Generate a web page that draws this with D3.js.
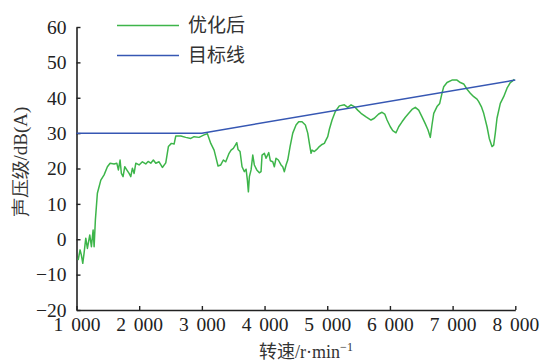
<!DOCTYPE html>
<html>
<head>
<meta charset="utf-8">
<script src="https://cdn.jsdelivr.net/npm/d3@7"></script>
<style>
  html, body { margin: 0; padding: 0; background: #fff; }
  svg { display: block; }
  .serif { font-family: "Liberation Serif", "Times New Roman", "DejaVu Serif", serif; }
</style>
</head>
<body>
<svg id="chart" width="541" height="364"></svg>
<script>
// Engine speed (r/min) and measured sound pressure level after optimisation, dB(A)
const speedOptimized = [
  1026,1057,1078,1100,1121,1148,1174,1212,1238,1265,1281,1301,1333,1388,1440,
  1493,1536,1600,1643,1668,1695,1716,1743,1770,1802,1839,1866,1892,1919,1946,
  1998,2051,2105,2142,2185,2226,2265,2317,2370,2424,2466,2514,2557,2584,2664,
  2743,2823,2876,2955,3035,3088,3142,3195,3222,3258,3301,3343,3381,3434,
  3466,3502,3534,3557,3577,3609,3641,3678,3705,3726,3742,3758,3785,3812,3837,
  3876,3917,3944,3960,3997,4024,4067,4092,4131,4156,4183,4220,4263,4290,4316,
  4343,4370,4407,4450,4502,4545,4598,4651,4689,4715,4742,4758,4794,4833,4874,
  4917,4954,4981,5008,5034,5077,5129,5193,5273,5327,5380,5432,5486,5539,5619,
  5698,5751,
  5767,5821,5874,5917,5954,6006,6045,6097,6140,6193,6246,6300,6352,6405,6459,
  6512,6565,6608,6644,6671,6699,6751,6794,6831,6858,6911,6990,7070,7123,7177,
  7230,7282,7337,7389,7416,7458,7496,7549,7585,7628,7655,7681,7708,7761,7815,
  7868,7920,7959,7984
];
const splOptimized = [
  -5.9,-3.0,-4.5,-6.8,-3.9,0.3,-2.6,1.2,-2.1,2.6,-2.1,5.4,13.0,16.7,18.2,
  20.5,21.5,21.3,21.5,19.6,22.4,18.6,17.7,20.5,19.6,18.6,17.7,20.1,18.6,21.5,
  21.0,21.9,21.3,22.0,21.5,22.4,21.5,21.9,20.3,21.6,26.2,27.1,26.9,29.2,29.2,
  28.8,28.5,29.0,28.8,29.5,29.8,27.1,25.2,23.3,20.7,21.0,22.4,21.9,24.3,
  25.2,25.7,26.6,27.3,25.4,24.8,20.5,19.1,19.8,16.7,13.4,17.7,19.6,23.8,21.0,
  19.6,18.8,19.1,23.8,24.3,22.9,24.5,22.2,21.9,20.5,22.9,22.4,21.0,20.5,19.1,
  21.0,22.4,26.2,30.0,32.3,33.2,33.2,32.3,30.0,27.1,24.3,25.2,24.8,25.4,26.2,
  26.8,27.1,28.1,29.0,31.1,33.7,36.1,37.7,38.0,37.3,38.0,37.5,36.5,35.6,34.6,
  33.7,34.2,
  34.5,35.4,35.9,35.4,33.7,31.8,30.7,30.1,31.8,33.2,34.5,35.6,36.7,37.3,36.5,
  34.6,32.6,30.9,28.8,32.3,35.6,37.5,38.4,41.3,43.1,44.3,45.0,45.0,44.3,43.9,
  42.4,41.3,40.3,39.6,38.9,37.5,35.6,31.8,28.5,26.2,26.6,30.0,34.2,38.4,40.3,
  42.7,44.3,44.8,45.2
];

// Target curve: flat 30 dB(A) up to 3000 r/min, then rising linearly
const speedTarget = [1000, 3000, 8000];
const splTarget = [30, 30, 45];

const xTicks = [1000, 2000, 3000, 4000, 5000, 6000, 7000, 8000];
const yTicks = [-20, -10, 0, 10, 20, 30, 40, 50, 60];

const seriesNames = ["优化后", "目标线"];
const seriesColors = ["#3db54a", "#3657b3"];

const svg = d3.select("#chart");
const margin = { left: 76.5, right: 25.7, top: 27, bottom: 54 };
const W = 541, H = 364;

const x = d3.scaleLinear().domain([1000, 8000]).range([margin.left, W - margin.right]);
const y = d3.scaleLinear().domain([-20, 60]).range([H - margin.bottom, margin.top]);

const fmtX = d => d3.format(",")(d).replace(",", "\u2009\u2009");
const fmtY = d3.format("d");

const serifStack = "'Liberation Serif', 'Times New Roman', 'DejaVu Serif', serif";

// Axes with inward ticks
const gx = svg.append("g")
  .attr("transform", `translate(0,${y(-20)})`)
  .call(d3.axisBottom(x).tickValues(xTicks).tickFormat(fmtX)
    .tickSizeInner(-4).tickSizeOuter(0).tickPadding(6));
const gy = svg.append("g")
  .attr("transform", `translate(${x(1000)},0)`)
  .call(d3.axisLeft(y).tickValues(yTicks).tickFormat(fmtY)
    .tickSizeInner(-4).tickSizeOuter(0).tickPadding(10));

[gx, gy].forEach(g => {
  g.attr("font-family", serifStack).attr("font-size", 19.5);
  g.select(".domain").attr("stroke", "#222").attr("stroke-width", 1.6);
  g.selectAll(".tick line").attr("stroke", "#222").attr("stroke-width", 1.4);
  g.selectAll(".tick text")
    .attr("class", "serif")
    .attr("fill", "#222")
    .attr("font-family", serifStack)
    .attr("font-size", 19.5);
});
gx.selectAll(".tick text").attr("dy", "0.75em");

// Lines
const line = d3.line().x(d => x(d[0])).y(d => y(d[1]));
const targetData = speedTarget.map((s, i) => [s, splTarget[i]]);
const optimizedData = speedOptimized.map((s, i) => [s, splOptimized[i]]);

svg.append("path")
  .datum(optimizedData)
  .attr("fill", "none")
  .attr("stroke", seriesColors[0])
  .attr("stroke-width", 1.5)
  .attr("stroke-linejoin", "round")
  .attr("d", line);

svg.append("path")
  .datum(targetData)
  .attr("fill", "none")
  .attr("stroke", seriesColors[1])
  .attr("stroke-width", 1.5)
  .attr("d", line);

// Legend
const legend = svg.append("g");
const legendY = [25.5, 55.5];
seriesNames.forEach((name, i) => {
  legend.append("line")
    .attr("x1", 117).attr("x2", 179)
    .attr("y1", legendY[i]).attr("y2", legendY[i])
    .attr("stroke", seriesColors[i]).attr("stroke-width", 1.5);
  legend.append("text")
    .attr("x", 188).attr("y", legendY[i])
    .attr("dy", "0.36em")
    .attr("fill", "#333")
    .attr("font-family", "'Noto Sans CJK SC', sans-serif")
    .attr("font-size", 19)
    .text(name);
});

// Axis titles
const titleFont = "'Liberation Serif', 'Noto Sans CJK SC', serif";
svg.append("text")
  .attr("class", "serif")
  .attr("transform", "translate(27,162) rotate(-90)")
  .attr("text-anchor", "middle")
  .attr("fill", "#333")
  .attr("font-family", titleFont)
  .attr("font-size", 19)
  .text("声压级/dB(A)");

const xt = svg.append("text")
  .attr("x", 306).attr("y", 358)
  .attr("text-anchor", "middle")
  .attr("fill", "#333")
  .attr("font-family", titleFont)
  .attr("font-size", 18);
xt.append("tspan").text("转速/r·min");
xt.append("tspan").attr("dy", "-0.55em").attr("font-size", 12).text("−1");
</script>
</body>
</html>
